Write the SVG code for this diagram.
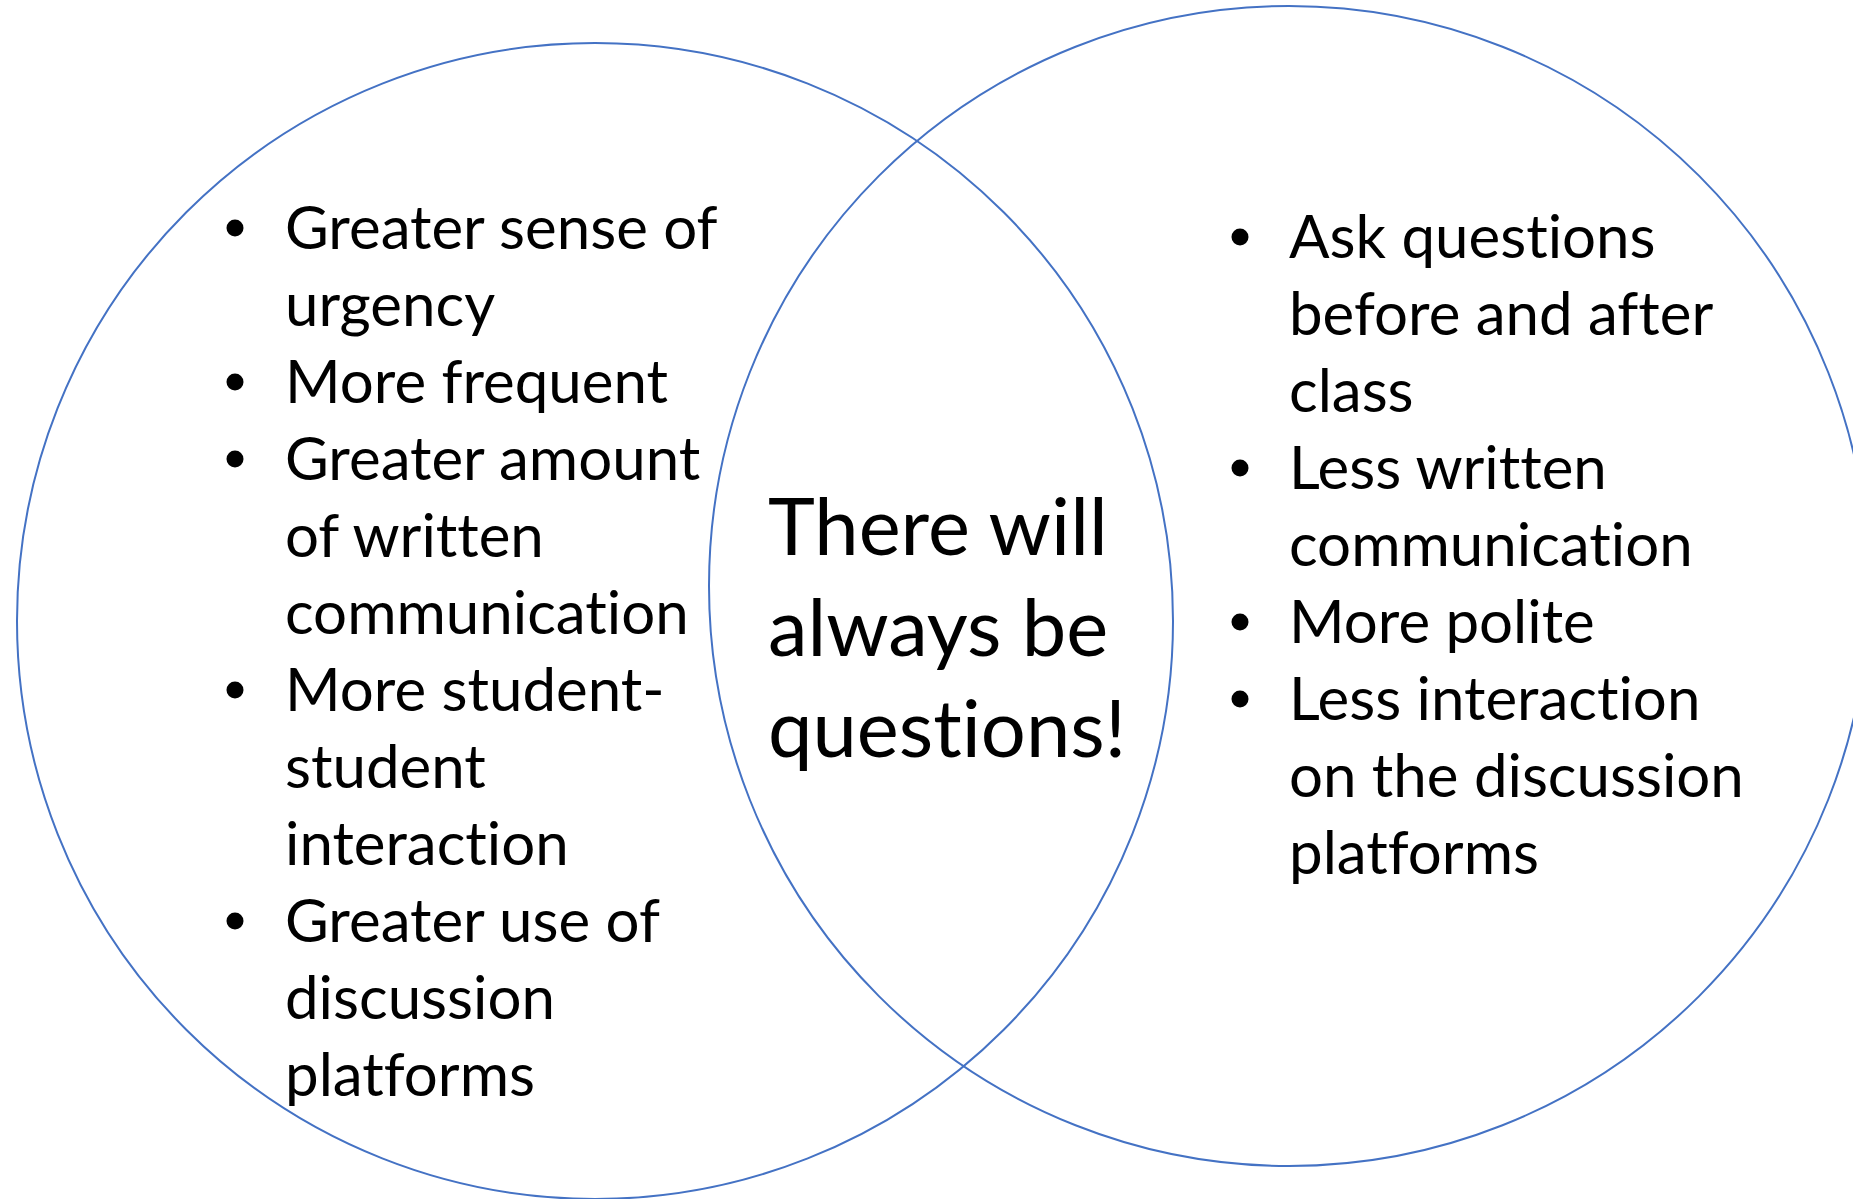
<svg xmlns="http://www.w3.org/2000/svg" width="1853" height="1199" viewBox="0 0 1853 1199">
<style>
.ring{fill:none;stroke:#4472C4;stroke-width:2}
.t{font-family:Lato,"Open Sans","Liberation Sans",sans-serif;font-size:60px;fill:#000;font-variant-ligatures:none;font-feature-settings:"liga" 0,"clig" 0}
.c{font-family:Lato,"Open Sans","Liberation Sans",sans-serif;font-size:79.5px;fill:#000;font-variant-ligatures:none;font-feature-settings:"liga" 0,"clig" 0}
.b{fill:#000}
</style>
<rect width="1853" height="1199" fill="#fff"/>
<g id="circle-left"><circle class="ring" cx="595" cy="621" r="578"/></g>
<g id="circle-right"><circle class="ring" cx="1289" cy="586" r="580"/></g>
<g id="connectors"></g>
<g id="left-list">
<circle class="b" cx="235" cy="228" r="8.5"/>
<circle class="b" cx="235" cy="382" r="8.5"/>
<circle class="b" cx="235" cy="459" r="8.5"/>
<circle class="b" cx="235" cy="690" r="8.5"/>
<circle class="b" cx="235" cy="921" r="8.5"/>
<text class="t" x="285" y="249">Greater sense of</text>
<text class="t" x="285" y="326">urgency</text>
<text class="t" x="285" y="403">More frequent</text>
<text class="t" x="285" y="480">Greater amount</text>
<text class="t" x="285" y="557">of written</text>
<text class="t" x="285" y="634">communication</text>
<text class="t" x="285" y="711">More student-</text>
<text class="t" x="285" y="788">student</text>
<text class="t" x="285" y="865">interaction</text>
<text class="t" x="285" y="942">Greater use of</text>
<text class="t" x="285" y="1019">discussion</text>
<text class="t" x="285" y="1096">platforms</text>
</g>
<g id="center">
<text class="c" x="768" y="555">There will</text>
<text class="c" x="768" y="656">always be</text>
<text class="c" x="768" y="757">questions!</text>
</g>
<g id="right-list">
<circle class="b" cx="1240" cy="237" r="8.5"/>
<circle class="b" cx="1240" cy="468" r="8.5"/>
<circle class="b" cx="1240" cy="622" r="8.5"/>
<circle class="b" cx="1240" cy="699" r="8.5"/>
<text class="t" x="1289" y="258">Ask questions</text>
<text class="t" x="1289" y="335">before and after</text>
<text class="t" x="1289" y="412">class</text>
<text class="t" x="1289" y="489">Less written</text>
<text class="t" x="1289" y="566">communication</text>
<text class="t" x="1289" y="643">More polite</text>
<text class="t" x="1289" y="720">Less interaction</text>
<text class="t" x="1289" y="797">on the discussion</text>
<text class="t" x="1289" y="874">platforms</text>
</g>
</svg>
